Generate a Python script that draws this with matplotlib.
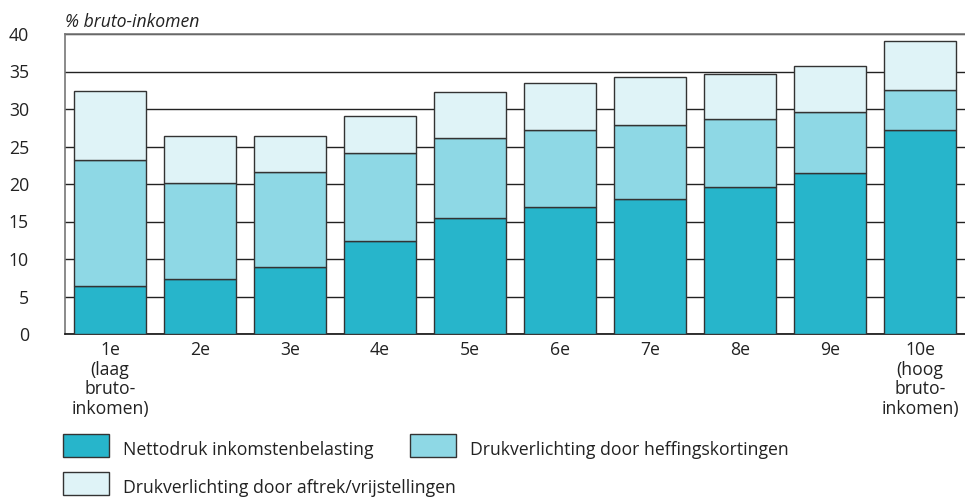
import matplotlib
matplotlib.use("Agg")
import matplotlib.pyplot as plt
from matplotlib.patches import Rectangle

plt.rcParams['font.family'] = ['Open Sans', 'DejaVu Sans']

categories = ["1e\n(laag\nbruto-\ninkomen)", "2e", "3e", "4e", "5e", "6e", "7e", "8e", "9e",
              "10e\n(hoog\nbruto-\ninkomen)"]
netto = [6.4, 7.4, 9.0, 12.4, 15.5, 16.9, 18.0, 19.6, 21.5, 27.2]
heffing = [16.8, 12.7, 12.6, 11.7, 10.6, 10.3, 9.9, 9.1, 8.1, 5.3]
aftrek = [9.2, 6.3, 4.8, 5.0, 6.2, 6.3, 6.3, 6.0, 6.2, 6.6]
series_labels = ["Nettodruk inkomstenbelasting", "Drukverlichting door heffingskortingen",
                 "Drukverlichting door aftrek/vrijstellingen"]
yticks = [0, 5, 10, 15, 20, 25, 30, 35, 40]

colors = ["#27b5cb", "#8ed8e5", "#dff3f7"]
edge = "#333333"
txt = "#222222"
FS = 12.7

W, H = 965, 499
fig = plt.figure(figsize=(W / 100, H / 100), dpi=100)
ax = fig.add_axes([65 / W, 1 - 334 / H, 900 / W, 300 / H])

x = list(range(len(categories)))
bottom2 = [a + b for a, b in zip(netto, heffing)]
ax.bar(x, netto, width=0.8, color=colors[0], edgecolor=edge, linewidth=1, zorder=3)
ax.bar(x, heffing, width=0.8, bottom=netto, color=colors[1], edgecolor=edge, linewidth=1, zorder=3)
ax.bar(x, aftrek, width=0.8, bottom=bottom2, color=colors[2], edgecolor=edge, linewidth=1, zorder=3)

ax.set_xlim(-0.5, 9.5)
ax.set_ylim(0, 40)
ax.set_yticks(yticks)
ax.set_yticklabels([str(v) for v in yticks], fontsize=FS, color=txt)
ax.yaxis.grid(True, color="#222222", linewidth=1, zorder=0)
ax.set_axisbelow(True)
ax.tick_params(axis='y', length=0, pad=26)
ax.tick_params(axis='x', length=0, pad=5)
ax.set_xticks(x)
ax.set_xticklabels(categories, fontsize=FS, color=txt, linespacing=1.12)

for s in ['left', 'top']:
    ax.spines[s].set_color("#777777")
    ax.spines[s].set_linewidth(1.2)
ax.spines['right'].set_visible(False)
ax.spines['bottom'].set_color("#111111")
ax.spines['bottom'].set_linewidth(1.2)

fig.text(65 / W, 1 - 22 / H, "% bruto-inkomen", fontsize=FS, style='italic', color=txt,
         ha='left', va='center')

# legend
items = [(63, 434, 0), (410, 434, 1), (63, 472, 2)]
for px, py, i in items:
    r = Rectangle((px / W, 1 - (py + 23) / H), 46 / W, 23 / H, transform=fig.transFigure,
                  facecolor=colors[i], edgecolor=edge, linewidth=1)
    fig.patches.append(r)
    fig.text((px + 60) / W, 1 - (py + 16) / H, series_labels[i], fontsize=FS, color=txt,
             ha='left', va='center')

fig.savefig("out.png", dpi=100)
